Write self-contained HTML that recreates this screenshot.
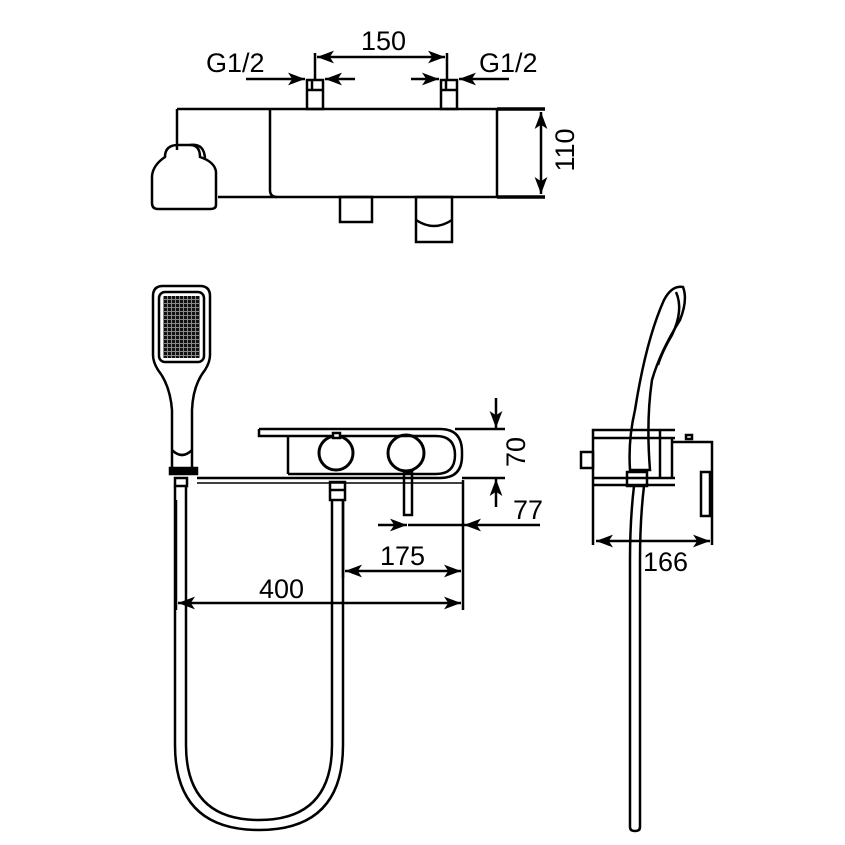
<!DOCTYPE html>
<html><head><style>body{margin:0;background:#fff}svg{display:block}</style></head><body>
<svg width="845" height="845" viewBox="0 0 845 845" xmlns="http://www.w3.org/2000/svg">
<defs>
<marker id="a" viewBox="0 0 16 12" refX="16" refY="6" markerWidth="17" markerHeight="13" orient="auto-start-reverse" markerUnits="userSpaceOnUse"><path d="M0,0 L16,6 L0,12 L4,6 z" fill="#000"/></marker>
<pattern id="dots" width="4" height="4" patternUnits="userSpaceOnUse"><rect width="4" height="4" fill="#888"/><rect width="3" height="3" fill="#111"/></pattern>
</defs>
<g fill="none" stroke="#000" stroke-width="2.5" font-family="'Liberation Sans', sans-serif">
<!-- TOP VIEW -->
<line x1="177" y1="109" x2="545" y2="109"/>
<line x1="177" y1="109" x2="177" y2="150"/>
<path d="M270,109 V190 Q270,197 277,197"/>
<line x1="218" y1="197" x2="545" y2="197"/>
<line x1="497" y1="109" x2="497" y2="197"/>
<line x1="497" y1="109" x2="545" y2="109" stroke-width="3.5"/>
<line x1="497" y1="197" x2="545" y2="197" stroke-width="3.5"/>
<path d="M165,157 Q165,145 178,145 H190 Q200,145 200,157 Q215,162 216,172 V205 Q216,209 210,209 H158 Q152,209 152,203 V176 Q153,165 165,157 Z"/>
<path d="M190,145 Q205,143 205,160"/>
<rect x="307" y="80" width="16" height="29"/><line x1="312" y1="80" x2="312" y2="90"/><line x1="307" y1="90" x2="323" y2="90"/>
<rect x="441" y="80" width="16" height="29"/><line x1="446" y1="80" x2="446" y2="90"/><line x1="441" y1="90" x2="457" y2="90"/>
<line x1="315" y1="53" x2="315" y2="80"/><line x1="447" y1="53" x2="447" y2="80"/>
<line x1="317" y1="57" x2="445" y2="57" marker-start="url(#a)" marker-end="url(#a)"/>
<line x1="246" y1="79" x2="305" y2="79" marker-end="url(#a)"/>
<line x1="355" y1="79" x2="325" y2="79" marker-end="url(#a)"/>
<line x1="411" y1="79" x2="439" y2="79" marker-end="url(#a)"/>
<line x1="509" y1="79" x2="459" y2="79" marker-end="url(#a)"/>
<rect x="340" y="197" width="32" height="25"/>
<rect x="416" y="197" width="36" height="45"/>
<path d="M416,220 Q434,232 452,220"/>
<line x1="541" y1="112" x2="541" y2="194" marker-start="url(#a)" marker-end="url(#a)"/>
<!-- FRONT VIEW -->
<path d="M172,470 V410 Q170,385 158,370 Q153,362 153,355 V296 Q153,286 163,286 H200 Q210,286 210,296 V355 Q210,362 205,370 Q193,385 192,410 V470"/>
<rect x="159" y="292" width="45" height="70" rx="6"/>
<rect x="163" y="296" width="37" height="62" fill="url(#dots)" stroke="none"/>
<path d="M172,450 Q182,460 192,450"/>
<rect x="170" y="468" width="27" height="6" fill="#000"/>
<rect x="175" y="478" width="12" height="8"/>
<path d="M259,429 H440 Q462,429 462,452 V456 Q462,478 440,478 H197"/>
<path d="M259,429 V436 H288 V474 M288,436 H436 Q455,436 455,455 Q455,474 436,474 H288"/>
<line x1="197" y1="483" x2="462" y2="483" stroke-width="1.5"/>
<circle cx="336" cy="453" r="17" stroke-width="3"/>
<circle cx="406" cy="453" r="18" stroke-width="3"/>
<rect x="333" y="433" width="7" height="5" fill="#fff"/>
<rect x="330" y="482" width="15" height="18"/>
<line x1="330" y1="490" x2="345" y2="490"/>
<rect x="404" y="472" width="8" height="43"/>
<path d="M175,486 V745 Q175,830 259,830 Q343,830 343,745 V500"/>
<path d="M186,486 V745 Q186,820 259,820 Q332,820 332,745 V500"/>
<line x1="463" y1="480" x2="463" y2="610"/>
<line x1="176" y1="500" x2="176" y2="610"/>
<line x1="343" y1="500" x2="343" y2="578"/>
<line x1="455" y1="429" x2="505" y2="429"/>
<line x1="462" y1="478" x2="505" y2="478"/>
<line x1="496" y1="398" x2="496" y2="428" marker-end="url(#a)"/>
<line x1="496" y1="507" x2="496" y2="479" marker-end="url(#a)"/>
<line x1="378" y1="525" x2="407" y2="525" marker-end="url(#a)"/>
<line x1="540" y1="525" x2="464" y2="525" marker-end="url(#a)"/>
<line x1="408" y1="525" x2="463" y2="525"/>
<line x1="345" y1="571" x2="461" y2="571" marker-start="url(#a)" marker-end="url(#a)"/>
<line x1="178" y1="603" x2="461" y2="603" marker-start="url(#a)" marker-end="url(#a)"/>
<!-- SIDE VIEW -->
<path d="M593,545 V430 H675"/>
<line x1="593" y1="438" x2="675" y2="438"/>
<line x1="593" y1="478" x2="675" y2="478"/>
<line x1="593" y1="485" x2="675" y2="485"/>
<line x1="660" y1="430" x2="660" y2="478"/>
<rect x="581" y="452" width="12" height="16"/>
<rect x="686" y="435" width="6" height="4"/>
<path d="M672,438 V478 M672,442 H712 V545"/>
<rect x="701" y="472" width="9" height="44"/>
<path d="M630,470 Q628,440 635,410 Q646,340 664,300 Q672,285 683,287 Q688,300 680,320 Q660,352 652,380 Q646,420 650,470 Z"/>
<path d="M676,292 Q684,310 672,335 Q662,352 658,365"/>
<rect x="627" y="472" width="20" height="14"/>
<path d="M634,486 Q630,520 630,560 V827 Q630,831 635,831 Q640,831 640,827 V560 Q640,520 644,486"/>
<line x1="596" y1="541" x2="710" y2="541" marker-start="url(#a)" marker-end="url(#a)"/>
</g>
<g font-family="'Liberation Sans', sans-serif" font-size="27" fill="#000">
<text x="361" y="50">150</text>
<text x="206" y="72">G1/2</text>
<text x="479" y="72">G1/2</text>
<text transform="translate(574,150) rotate(-90)" text-anchor="middle">110</text>
<text transform="translate(525,452) rotate(-90)" text-anchor="middle">70</text>
<text x="513" y="519">77</text>
<text x="380" y="565">175</text>
<text x="259" y="598">400</text>
<text x="643" y="571">166</text>
</g>
</svg>
</body></html>
